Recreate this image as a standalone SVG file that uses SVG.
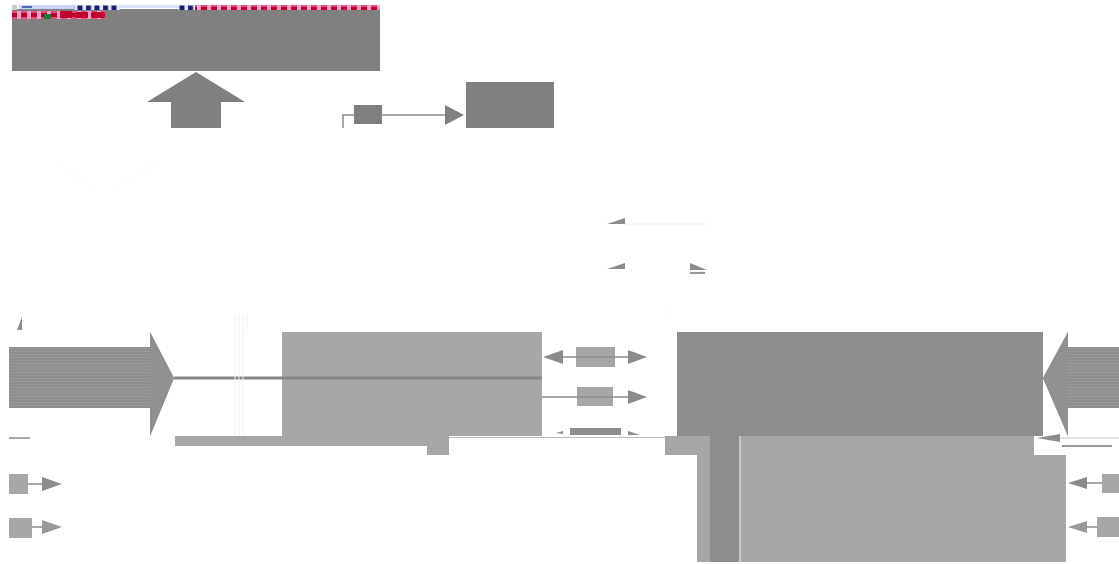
<svg xmlns="http://www.w3.org/2000/svg" width="1119" height="564" viewBox="0 0 1119 564">
<style>
.dk{fill:#808080}
.md{fill:#8e8e8e}
.lt{fill:#a6a6a6}
.ln{stroke:#8c8c8c;stroke-width:1.5;fill:none}
.fa{stroke:#efefef;stroke-width:1;fill:none}
.hd{fill:#8c8c8c}
</style>
<defs>
<pattern id="pk" x="0" y="0" width="10" height="6" patternUnits="userSpaceOnUse">
<rect width="10" height="6" fill="#ff9fd0"/>
<rect x="1" y="0.5" width="6" height="5" fill="#c0002a"/>
</pattern>
<pattern id="nv" x="0" y="0" width="8.5" height="5" patternUnits="userSpaceOnUse">
<rect width="8.5" height="5" fill="#dfe8ff"/>
<rect x="1" y="0.5" width="5" height="4.5" fill="#1a2070"/>
</pattern>
<pattern id="st" x="0" y="0" width="4" height="3" patternUnits="userSpaceOnUse">
<rect width="4" height="3" fill="#8e8e8e"/>
<rect width="4" height="1" fill="#999"/>
</pattern>
</defs>
<rect width="1119" height="564" fill="#fff"/>

<g id="top-bar">
<rect class="dk" x="12" y="9" width="368" height="62"/>
<rect x="12" y="5" width="5" height="5" fill="#ccc"/>
<rect x="19" y="5" width="55" height="4" fill="#c8d4ff"/>
<rect x="22" y="6" width="10" height="2" fill="#5566aa"/>
<rect x="74" y="5" width="46" height="5" fill="url(#nv)"/>
<rect x="120" y="5" width="58" height="3" fill="#d8e0ff"/>
<rect x="178" y="5" width="17" height="5" fill="url(#nv)"/>
<rect x="195" y="5" width="185" height="5" fill="url(#pk)"/>
<rect x="12" y="11" width="93" height="8" fill="url(#pk)"/>
<rect x="44" y="14" width="7" height="5" fill="#1a7a3a"/>
<rect x="60" y="11" width="12" height="7" fill="#c0002a"/>
<rect x="76" y="12" width="12" height="6" fill="#c0002a"/>
<rect x="92" y="12" width="12" height="6" fill="#c0002a"/>
</g>

<g id="up-arrow">
<polygon class="dk" points="196,72 245,102 221,102 221,128 171,128 171,102 147,102"/>
</g>

<g id="small-box">
<rect class="dk" x="354" y="105" width="28" height="19"/>
</g>

<g id="target-box">
<rect class="dk" x="466" y="82" width="88" height="46"/>
</g>

<g id="left-arrow">
<polygon fill="url(#st)" points="9,347 150,347 150,332 174,378 150,436 150,408 9,408"/>
<polygon fill="#909090" points="150,332 174,378 150,436"/>
</g>

<g id="center-box">
<rect class="lt" x="282" y="332" width="260" height="104"/>
<rect class="lt" x="175" y="436" width="252" height="10"/>
<rect class="lt" x="427" y="436" width="22" height="19"/>
</g>

<g id="mid-box-1"><rect class="lt" x="576" y="347" width="39" height="20"/></g>
<g id="mid-box-2"><rect class="lt" x="577" y="387" width="36" height="19"/></g>
<g id="mid-box-3"><rect class="md" x="570" y="428" width="51" height="7"/></g>

<g id="right-box">
<rect class="md" x="677" y="332" width="366" height="104"/>
</g>

<g id="right-arrow">
<polygon fill="url(#st)" points="1119,347 1068,347 1068,332 1043,378 1068,436 1068,408 1119,408"/>
<polygon fill="#909090" points="1068,332 1043,378 1068,436"/>
</g>

<g id="bottom-block">
<rect class="lt" x="665" y="436" width="45" height="19"/>
<rect class="lt" x="697" y="455" width="13" height="107"/>
<rect class="md" x="710" y="436" width="29" height="126"/>
<rect x="739" y="436" width="2" height="126" fill="#c8c8c8"/>
<rect class="lt" x="741" y="436" width="293" height="19"/>
<rect class="lt" x="741" y="455" width="325" height="107"/>
</g>

<g id="left-src-1"><rect class="lt" x="9" y="474" width="19" height="20"/></g>
<g id="left-src-2"><rect class="lt" x="9" y="518" width="23" height="20"/></g>
<g id="right-src-1"><rect class="lt" x="1102" y="474" width="17" height="19"/></g>
<g id="right-src-2"><rect class="lt" x="1097" y="517" width="22" height="20"/></g>

<g id="connectors">
<polyline class="ln" points="343,128 343,115 354,115"/>
<line class="ln" x1="382" y1="115" x2="446" y2="115"/>
<polygon class="dk" points="445,105 464,115 445,125"/>

<line class="fa" x1="57" y1="164" x2="93" y2="187" stroke-dasharray="1,5"/>
<line class="fa" x1="119" y1="187" x2="156" y2="164" stroke-dasharray="1,5"/>

<line x1="174" y1="378" x2="542" y2="378" stroke="#858585" stroke-width="3"/>

<line class="ln" x1="563" y1="357" x2="628" y2="357"/>
<polygon class="hd" points="543,357 563,350 563,364"/>
<polygon class="hd" points="647,357 628,350 628,364"/>
<line class="ln" x1="542" y1="397" x2="628" y2="397"/>
<polygon class="hd" points="647,397 628,390 628,404"/>
<polygon class="hd" points="556,433 563,431 563,434"/>
<polygon class="hd" points="640,435 628,431 628,435"/>
<line x1="449" y1="437.5" x2="665" y2="437.5" stroke="#bbb" stroke-width="1"/>

<polygon class="hd" points="607,224 625,218 625,224"/>
<line class="fa" x1="625" y1="224" x2="707" y2="224"/>
<polygon class="hd" points="607,269 625,263 625,269"/>
<polygon class="hd" points="690,263 707,270 690,270"/>
<rect x="690" y="272" width="15" height="2" fill="#999"/>
<line class="fa" x1="607" y1="312" x2="707" y2="312" stroke-dasharray="2,60"/>

<line class="ln" x1="9" y1="438" x2="30" y2="438" stroke-width="1"/>
<polygon class="hd" points="17,330 22,317 22,330"/>
<line class="fa" x1="235" y1="314" x2="235" y2="436"/>
<line class="fa" x1="239" y1="314" x2="239" y2="436"/>
<line class="fa" x1="243" y1="314" x2="243" y2="436"/>
<line class="fa" x1="247" y1="314" x2="247" y2="330"/>

<line class="ln" x1="28" y1="484" x2="42" y2="484"/>
<polygon class="hd" points="62,484 42,477 42,491"/>
<line class="ln" x1="32" y1="527" x2="42" y2="527"/>
<polygon fill="#999" points="62,527 42,520 42,534"/>

<line class="ln" x1="1087" y1="483" x2="1102" y2="483"/>
<polygon class="hd" points="1068,483 1087,477 1087,489"/>
<line class="ln" x1="1087" y1="527" x2="1097" y2="527"/>
<polygon fill="#999" points="1068,527 1087,521 1087,533"/>

<line x1="1060" y1="438" x2="1119" y2="438" stroke="#ccc" stroke-width="1"/>
<polygon class="hd" points="1037,438 1060,434 1060,442"/>
<rect x="1062" y="445" width="50" height="2" fill="#999"/>
</g>
</svg>
